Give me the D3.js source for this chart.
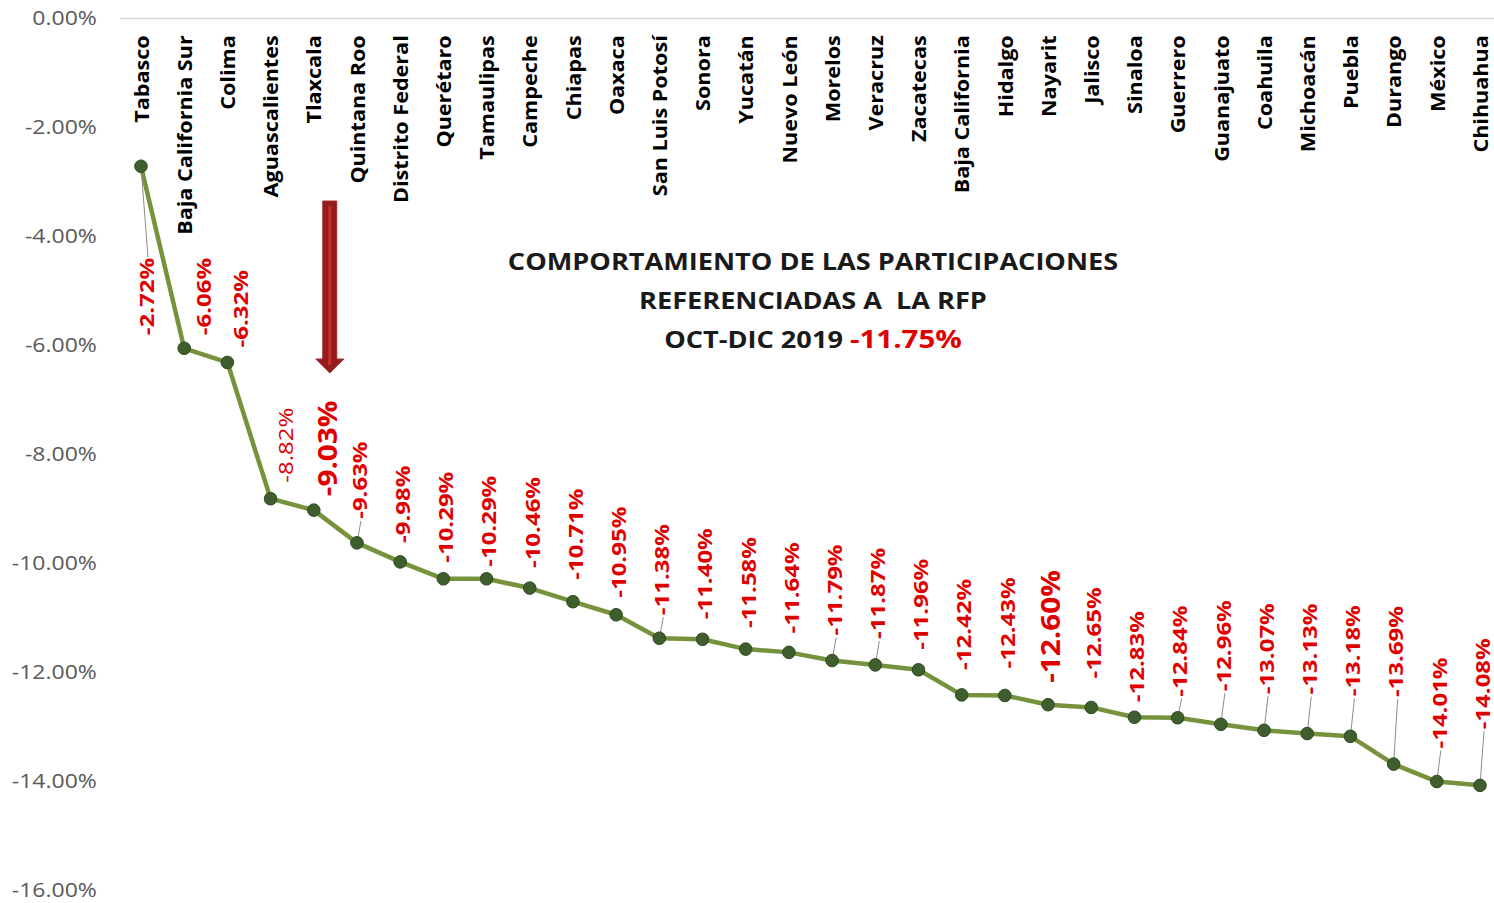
<!DOCTYPE html>
<html>
<head>
<meta charset="utf-8">
<script src="https://cdn.jsdelivr.net/npm/d3@7"></script>
<style>
  html, body { margin: 0; padding: 0; background: #ffffff; }
  svg { display: block; }
</style>
</head>
<body>
<svg id="chart" width="1494" height="903"></svg>
<script>
// ---------- DATA ----------
const categories = ["Tabasco","Baja California Sur","Colima","Aguascalientes","Tlaxcala","Quintana Roo","Distrito Federal","Querétaro","Tamaulipas","Campeche","Chiapas","Oaxaca","San Luis Potosí","Sonora","Yucatán","Nuevo León","Morelos","Veracruz","Zacatecas","Baja California","Hidalgo","Nayarit","Jalisco","Sinaloa","Guerrero","Guanajuato","Coahuila","Michoacán","Puebla","Durango","México","Chihuahua"];
const values = [-2.72,-6.06,-6.32,-8.82,-9.03,-9.63,-9.98,-10.29,-10.29,-10.46,-10.71,-10.95,-11.38,-11.40,-11.58,-11.64,-11.79,-11.87,-11.96,-12.42,-12.43,-12.60,-12.65,-12.83,-12.84,-12.96,-13.07,-13.13,-13.18,-13.69,-14.01,-14.08];
const yTicks = [0,-2,-4,-6,-8,-10,-12,-14,-16];
const titleLines = ["COMPORTAMIENTO DE LAS PARTICIPACIONES","REFERENCIADAS A  LA RFP","OCT-DIC 2019 "];
const titleValue = "-11.75%";
const emphasized = ["Tlaxcala","Nayarit"];
const lightLabels = ["Aguascalientes"];
const leaderFor = ["Tabasco","Quintana Roo","San Luis Potosí","Morelos","Veracruz","Guerrero","Guanajuato","Coahuila","Michoacán","Puebla","Durango","México","Chihuahua"];

// ---------- LAYOUT (annotation placement, in px) ----------
const labelLift  = [-169,13,15,16,14,24,19,16,12,20,22,17,23,20,21,19,25,26,20,25,27,22,29,15,21,33,36,39,40,67,33,56];
const labelShift = [6,20,14,16,14,3,3,3,3,3,3,3,3,3,3,3,3,3,3,3,3,3,3,3,3,3,3,3,3,3,3,3];

const FONT = "'Open Sans', 'DejaVu Sans', sans-serif";
const loc = d3.formatLocale({decimal: ".", thousands: ",", grouping: [3], currency: ["$", ""], minus: "-"});
const pct = v => loc.format(".2f")(v) + "%";
const svg = d3.select("#chart");

const x = d3.scalePoint().domain(categories).range([119.4, 1501.6]).padding(0.5);
const y = d3.scaleLinear().domain([-16, 0]).range([890, 18]);

// ---------- Y axis ----------
const yAxis = svg.append("g")
  .attr("transform", "translate(106,0)")
  .call(d3.axisLeft(y).tickValues(yTicks).tickSize(0).tickPadding(0).tickFormat(pct));
yAxis.select(".domain").remove();
yAxis.selectAll("text")
  .attr("x", -8)
  .attr("transform", "scale(1.15,1)")
  .style("font-family", FONT)
  .style("font-size", "20px")
  .attr("fill", "#595959");

// ---------- Category axis along the top (0%) ----------
const xAxis = svg.append("g")
  .attr("transform", `translate(0,${y(0)})`)
  .call(d3.axisBottom(x).tickSize(0).tickPadding(0));
xAxis.select(".domain").attr("stroke", "#d9d9d9").attr("stroke-width", 1.5);
xAxis.selectAll("text")
  .attr("y", 0).attr("x", -16).attr("dy", "0.36em")
  .attr("transform", "rotate(-90) scale(1.08,1)")
  .attr("text-anchor", "end")
  .style("font-family", FONT)
  .style("font-size", "20px")
  .style("font-weight", "700")
  .attr("fill", "#000");

// ---------- Line + markers ----------
const pts = categories.map((c, i) => ({c, v: values[i], i}));
svg.append("path")
  .datum(pts)
  .attr("fill", "none")
  .attr("stroke", "#76923c")
  .attr("stroke-width", 4.5)
  .attr("stroke-linejoin", "round")
  .attr("d", d3.line().x(d => x(d.c)).y(d => y(d.v)));

// leader lines
svg.append("g").selectAll("line")
  .data(pts.filter(d => leaderFor.includes(d.c)))
  .join("line")
  .attr("x1", d => x(d.c))
  .attr("y1", d => y(d.v))
  .attr("x2", d => x(d.c) + labelShift[d.i] + 1)
  .attr("y2", d => d.i === 0 ? y(d.v) + (-labelLift[d.i]) - 78 : y(d.v) - labelLift[d.i] + 2)
  .attr("stroke", "#8c8c8c")
  .attr("stroke-width", 1);

svg.append("g").selectAll("circle")
  .data(pts)
  .join("circle")
  .attr("cx", d => x(d.c))
  .attr("cy", d => y(d.v))
  .attr("r", 6.3)
  .attr("fill", "#3f5e2e")
  .attr("stroke", "#2f4a22")
  .attr("stroke-width", 1);

// ---------- Data labels ----------
svg.append("g").selectAll("text")
  .data(pts)
  .join("text")
  .attr("transform", d => {
    const big = emphasized.includes(d.c);
    return `translate(${x(d.c) + labelShift[d.i]},${y(d.v) - labelLift[d.i]}) rotate(-90) scale(${big ? 1.1 : 1.2},1)`;
  })
  .attr("dy", "0.34em")
  .attr("text-anchor", "start")
  .style("font-family", FONT)
  .style("font-size", d => emphasized.includes(d.c) ? "27px" : "20px")
  .style("font-weight", d => lightLabels.includes(d.c) ? "400" : "700")
  .attr("fill", "#e00000")
  .text(d => pct(d.v));

// ---------- Arrow annotation ----------
const ax = x("Tlaxcala") + 16;
const arrow = svg.append("g").attr("transform", `translate(${ax},0)`);
arrow.append("path")
  .attr("d", `M-7,201 L7,201 L7,359 L14,359 L0,373 L-14,359 L-7,359 Z`)
  .attr("fill", "#941c1f")
  .attr("stroke", "#a52a2a")
  .attr("stroke-width", 1);
arrow.append("line")
  .attr("x1", 0).attr("x2", 0).attr("y1", 206).attr("y2", 365)
  .attr("stroke", "#c4302b").attr("stroke-width", 3);

// ---------- Title ----------
const title = svg.append("g").attr("transform", "translate(813,0) scale(1.18,1)");
titleLines.forEach((t, i) => {
  const tx = title.append("text")
    .attr("y", 270 + i * 39)
    .attr("text-anchor", "middle")
    .attr("xml:space", "preserve")
    .style("white-space", "pre")
    .style("font-family", FONT)
    .style("font-size", "23px")
    .style("font-weight", "700")
    .attr("fill", "#1a1a1a")
    .text(t);
  if (i === titleLines.length - 1) {
    tx.append("tspan")
      .attr("fill", "#e00000")
      .style("font-size", "25px")
      .text(titleValue);
  }
});
</script>
</body>
</html>
